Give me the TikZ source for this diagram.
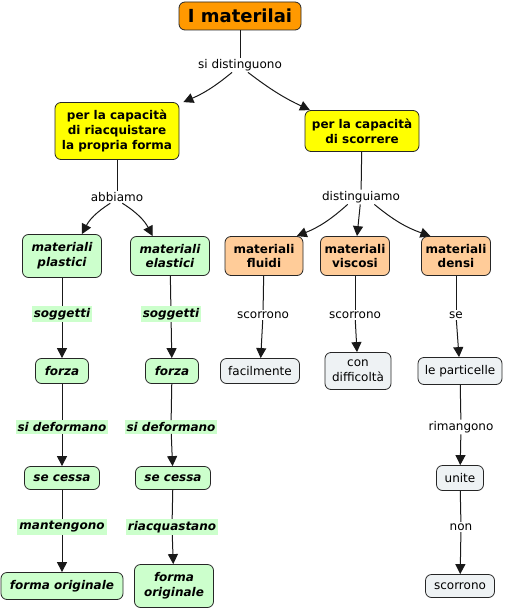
\documentclass[tikz,border=0pt]{standalone}
\usepackage{fontspec}
\setmainfont{DejaVu Sans}
\usetikzlibrary{arrows.meta}
\definecolor{orng}{HTML}{FF9900}
\definecolor{peach}{HTML}{FFCC99}
\definecolor{grn}{HTML}{CCFFCC}
\definecolor{ylw}{HTML}{FFFF00}
\definecolor{pale}{HTML}{EEF2F4}
\begin{document}
\begin{tikzpicture}[x=0.75pt,y=-0.75pt,
  box/.style={draw=black!85, line width=0.6pt, rounded corners=4.5pt, align=center,
    inner sep=0pt, font=\fontsize{9}{11}\selectfont},
  boldbox/.style={box, font=\fontsize{9}{11}\selectfont\bfseries},
  itbox/.style={box, fill=grn, font=\fontsize{9}{11}\selectfont\bfseries\itshape},
  palebox/.style={box, fill=pale},
  lbl/.style={fill=white, inner sep=1pt, font=\fontsize{9}{11}\selectfont},
  glbl/.style={fill=grn, inner sep=1.5pt, font=\fontsize{9}{11}\selectfont\bfseries\itshape},
  conn/.style={line width=0.75pt, draw=black!90},
  arr/.style={conn, -{Triangle[length=7.5pt,width=7.5pt]}}]
\useasboundingbox (0,0) rectangle (505,610);

% nodes
\node[box, fill=orng, minimum width=91.5pt, minimum height=21pt, font=\fontsize{13.5}{15}\selectfont\bfseries] (title) at (240,16) {I materilai};
\node[lbl] (sd) at (240,65) {si distinguono};
\node[boldbox, fill=ylw, minimum width=93pt, minimum height=42.75pt] (yl) at (117,131) {per la capacità\\di riacquistare\\la propria forma};
\node[boldbox, fill=ylw, minimum width=85.5pt, minimum height=30.75pt] (yr) at (362,131) {per la capacità\\di scorrere};
\node[lbl] (ab) at (117,197) {abbiamo};
\node[lbl] (dg) at (361,197) {distinguiamo};

\node[itbox, minimum width=59.25pt, minimum height=32.25pt] (mp) at (62,256) {materiali\\plastici};
\node[itbox, minimum width=59.25pt, minimum height=29.25pt] (me) at (170,256) {materiali\\elastici};
\node[boldbox, fill=peach, minimum width=58.5pt, minimum height=29.25pt] (mf) at (264,256) {materiali\\fluidi};
\node[boldbox, fill=peach, minimum width=51.75pt, minimum height=29.25pt] (mv) at (355,256) {materiali\\viscosi};
\node[boldbox, fill=peach, minimum width=51.75pt, minimum height=29.25pt] (md) at (456,256) {materiali\\densi};

\node[glbl] (s1) at (62,314) {soggetti};
\node[glbl] (s2) at (171,314) {soggetti};
\node[lbl] (sc1) at (263,315) {scorrono};
\node[lbl] (sc2) at (355,315) {scorrono};
\node[lbl] (se) at (456,315) {se};

\node[itbox, minimum width=39.75pt, minimum height=18.75pt] (f1) at (62,371) {forza};
\node[itbox, minimum width=39.75pt, minimum height=18.75pt] (f2) at (172,371) {forza};
\node[palebox, minimum width=59.25pt, minimum height=18.75pt] (fa) at (260,371) {facilmente};
\node[palebox, minimum width=49.5pt, minimum height=27.75pt] (cd) at (358,371) {con\\difficoltà};
\node[palebox, minimum width=63pt, minimum height=20.25pt] (lp) at (460,371) {le particelle};

\node[glbl] (d1) at (62,427) {si deformano};
\node[glbl] (d2) at (171,427) {si deformano};
\node[lbl] (ri) at (461,427) {rimangono};

\node[itbox, minimum width=56.25pt, minimum height=17.25pt] (c1) at (62,478) {se cessa};
\node[itbox, minimum width=56.25pt, minimum height=17.25pt] (c2) at (173,478) {se cessa};
\node[palebox, minimum width=35.25pt, minimum height=18.75pt] (un) at (460,478) {unite};

\node[glbl] (mt) at (62,527) {mantengono};
\node[glbl] (rq) at (172,527) {riacquastano};
\node[lbl] (no) at (461,527) {non};

\node[itbox, minimum width=91.5pt, minimum height=20.25pt] (fo1) at (62,586) {forma originale};
\node[itbox, minimum width=59.25pt, minimum height=32.25pt] (fo2) at (174,586) {forma\\originale};
\node[palebox, minimum width=51.75pt, minimum height=17.25pt] (sr) at (460,586) {scorrono};

% connectors
\draw[conn] (title) -- (sd);
\draw[arr] ([xshift=-6pt]sd.south) to[bend left=8] ([xshift=3pt]yl.north east);
\draw[arr] ([xshift=6pt]sd.south) to[bend right=6] ([xshift=4pt]yr.north west);

\draw[conn] (yl) -- (ab);
\draw[arr] ([xshift=-5pt]ab.south) to[bend right=15] ([xshift=-15pt]mp.north east);
\draw[arr] ([xshift=4pt]ab.south) to[bend left=15] ([xshift=-13pt]me.north);

\draw[conn] (yr) -- (dg);
\draw[arr] ([xshift=-10pt]dg.south) to[bend left=10] ([xshift=-5pt]mf.north east);
\draw[arr] (dg) -- (mv);
\draw[arr] ([xshift=10pt]dg.south) to[bend right=10] ([xshift=7pt]md.north west);

\draw[conn] (mp) -- (s1); \draw[arr] (s1) -- (f1);
\draw[conn] (me) -- (s2); \draw[arr] (s2) -- (f2);
\draw[conn] (mf) -- (sc1); \draw[arr] (sc1) -- (fa);
\draw[conn] (mv) -- (sc2); \draw[arr] (sc2) -- (cd);
\draw[conn] (md) -- (se); \draw[arr] (se) -- (lp);

\draw[conn] (f1) -- (d1); \draw[arr] (d1) -- (c1);
\draw[conn] (f2) -- (d2); \draw[arr] (d2) -- (c2);
\draw[conn] (lp) -- (ri); \draw[arr] (ri) -- (un);

\draw[conn] (c1) -- (mt); \draw[arr] (mt) -- (fo1);
\draw[conn] (c2) -- (rq); \draw[arr] (rq) -- (fo2);
\draw[conn] (un) -- (no); \draw[arr] (no) -- (sr);
\end{tikzpicture}
\end{document}
